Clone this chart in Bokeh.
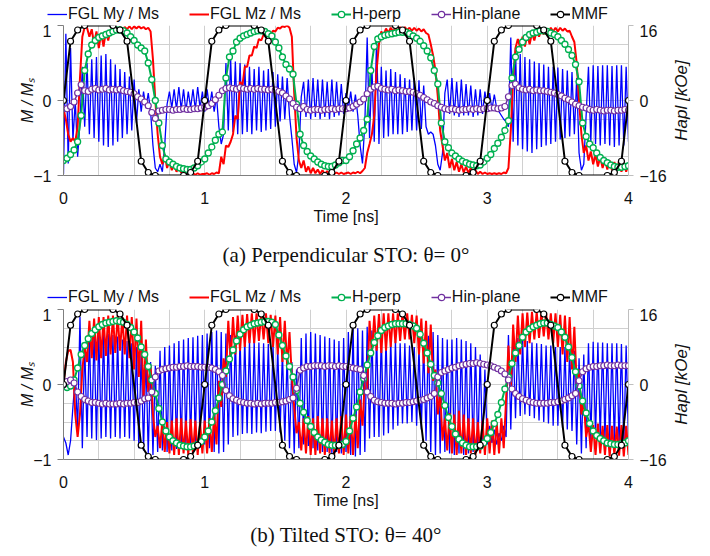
from bokeh.plotting import figure
from bokeh.models import Range1d, LinearAxis, FixedTicker, Legend, LegendItem, Title
from bokeh.layouts import column, row
from bokeh.embed import file_html
from bokeh.resources import INLINE

# ---------------- time axes ----------------
FINE_STEP = 1.0 / 60.0      # ns, FGL magnetisation samples
COARSE_STEP = 0.025         # ns, field samples
x_ticks = [0, 1, 2, 3, 4]
y_ticks_left = [-1, 0, 1]
y_ticks_right = [-16, 0, 16]
series_names = ["FGL My / Ms", "FGL Mz / Ms", "H-perp", "Hin-plane", "MMF"]

# ---------------- (a) perpendicular STO, theta = 0 deg ----------------
my_a = [
    -0.98, 0.89, -0.84, 0.70, -0.53, 0.00, -0.75, -0.30, 0.45, -0.35,
    0.50, -0.45, 0.55, -0.50, 0.58, -0.55, 0.60, -0.60, 0.62, -0.62,
    0.55, -0.60, 0.48, -0.55, 0.42, -0.50, 0.38, -0.45, 0.32, -0.40,
    0.28, -0.30, 0.15, -0.15, 0.12, -0.10, 0.10, -0.15, -0.60, -0.90,
    -0.95, -0.85, -0.95, -0.60, -0.05, 0.12, -0.10, 0.15, -0.12, 0.18,
    -0.12, 0.15, -0.15, 0.12, -0.10, 0.15, -0.12, 0.18, -0.10, 0.12,
    -0.15, 0.15, -0.10, 0.12, -0.15, 0.05, -0.35, -0.58, -0.45, 0.50,
    -0.40, 0.55, -0.42, 0.52, -0.45, 0.50, -0.45, 0.48, -0.42, 0.45,
    -0.45, 0.42, -0.40, 0.45, -0.42, 0.40, -0.40, 0.42, -0.38, 0.38,
    -0.35, 0.35, -0.28, 0.32, -0.25, 0.30, -0.20, -0.50, -0.85, -0.96,
    -0.70, 0.05, 0.25, -0.22, 0.28, -0.25, 0.30, -0.22, 0.28, -0.25,
    0.28, -0.22, 0.25, -0.25, 0.28, -0.22, 0.25, -0.20, 0.22, -0.18,
    0.10, -0.12, 0.12, -0.15, 0.08, -0.20, -0.60, -0.84, -0.30, 0.84,
    -0.50, 0.45, -0.55, 0.85, -0.58, 0.45, -0.50, 0.40, -0.48, 0.42,
    -0.45, 0.38, -0.45, 0.35, -0.45, 0.30, -0.42, 0.28, -0.40, 0.30,
    -0.40, 0.27, -0.38, 0.20, -0.35, -0.45, -0.42, -0.45, -0.60, -0.85,
    -0.93, -0.70, 0.10, 0.28, -0.18, 0.30, -0.20, 0.25, -0.22, 0.28,
    -0.20, 0.22, -0.20, 0.20, -0.22, 0.15, -0.20, 0.15, -0.18, 0.12,
    -0.10, 0.10, -0.12, 0.08, -0.10, -0.15, -0.20, -0.25, -0.28, -0.35,
    0.84, -0.55, 0.70, -0.60, 0.62, -0.65, 0.58, -0.68, 0.55, -0.70,
    0.52, -0.65, 0.50, -0.62, 0.48, -0.60, 0.45, -0.58, 0.45, -0.55,
    0.44, -0.52, 0.42, -0.50, 0.40, -0.48, 0.38, -0.45, 0.30, -0.70,
    -0.93, -0.85, -0.20, 0.45, -0.55, 0.47, -0.58, 0.46, -0.60, 0.47,
    -0.58, 0.47, -0.60, 0.46, -0.62, 0.47, -0.60, 0.47, -0.60, 0.45,
    -0.55,
]
mz_a = [
    -0.12, -0.25, -0.45, -0.55, -0.50, -0.55, -0.35, 0.30, 0.85, 0.98,
    0.97, 0.85, 0.95, 0.75, 0.92, 0.70, 0.90, 0.72, 0.92, 0.80,
    0.95, 0.90, 0.97, 0.93, 0.98, 0.94, 0.98, 0.95, 0.99, 0.95,
    0.99, 0.96, 0.99, 0.96, 0.98, 0.95, 0.97, 0.92, 0.55, 0.00,
    -0.45, -0.75, -0.85, -0.72, -0.90, -0.80, -0.93, -0.85, -0.95, -0.90,
    -0.96, -0.93, -0.97, -0.95, -0.98, -0.97, -0.99, -0.97, -0.99, -0.98,
    -0.98, -0.97, -0.99, -0.97, -0.98, -0.96, -0.97, -0.75, -0.85, -0.60,
    -0.62, -0.55, -0.45, -0.20, -0.25, 0.25, 0.20, 0.45, 0.45, 0.60,
    0.60, 0.72, 0.70, 0.82, 0.80, 0.88, 0.86, 0.90, 0.88, 0.93,
    0.92, 0.97, 0.96, 0.99, 0.98, 1.00, 0.97, 0.85, 0.10, -0.50,
    -0.80, -0.90, -0.80, -0.95, -0.88, -0.97, -0.90, -0.97, -0.92, -0.98,
    -0.93, -0.98, -0.94, -0.98, -0.95, -0.98, -0.96, -0.98, -0.96, -0.98,
    -0.97, -0.96, -0.98, -0.96, -0.97, -0.95, -0.97, -0.94, -0.90, -0.70,
    -0.58, -0.45, -0.20, 0.40, 0.75, 0.92, 0.88, 0.96, 0.90, 0.97,
    0.92, 0.97, 0.93, 0.98, 0.94, 0.98, 0.94, 0.97, 0.93, 0.97,
    0.93, 0.96, 0.92, 0.95, 0.90, 0.88, 0.75, 0.60, 0.40, 0.05,
    -0.40, -0.60, -0.80, -0.70, -0.90, -0.78, -0.93, -0.82, -0.95, -0.85,
    -0.96, -0.88, -0.97, -0.90, -0.97, -0.93, -0.98, -0.95, -0.98, -0.96,
    -0.98, -0.97, -0.98, -0.97, -0.98, -0.97, -0.98, -0.96, -0.97, -0.90,
    -0.40, 0.30, 0.70, 0.82, 0.70, 0.85, 0.72, 0.88, 0.75, 0.90,
    0.80, 0.93, 0.85, 0.95, 0.88, 0.96, 0.90, 0.97, 0.92, 0.97,
    0.92, 0.97, 0.93, 0.96, 0.92, 0.93, 0.85, 0.78, 0.50, 0.00,
    -0.45, -0.70, -0.60, -0.80, -0.68, -0.85, -0.72, -0.88, -0.75, -0.90,
    -0.78, -0.92, -0.80, -0.93, -0.82, -0.94, -0.80, -0.95, -0.82, -0.95,
    -0.85,
]
# field curves, normalised to 16 kOe (right axis)
hperp_a = [
    -0.80, -0.77, -0.72, -0.66, -0.55, -0.20, 0.40, 0.62, 0.74, 0.80,
    0.84, 0.86, 0.88, 0.90, 0.92, 0.94, 0.94, 0.93, 0.90, 0.85,
    0.80, 0.74, 0.70, 0.66, 0.50, 0.28, 0.00, -0.30, -0.60, -0.78,
    -0.82, -0.85, -0.88, -0.90, -0.91, -0.92, -0.92, -0.90, -0.87, -0.82,
    -0.78, -0.70, -0.62, -0.53, -0.45, -0.42, 0.30, 0.58, 0.66, 0.78,
    0.83, 0.86, 0.88, 0.90, 0.92, 0.93, 0.93, 0.92, 0.89, 0.86,
    0.78, 0.70, 0.58, 0.48, 0.42, 0.35, -0.05, -0.45, -0.60, -0.68,
    -0.74, -0.78, -0.82, -0.85, -0.87, -0.88, -0.88, -0.86, -0.83, -0.80,
    -0.80, -0.75, -0.67, -0.58, -0.50, -0.40, -0.25, 0.40, 0.72, 0.82,
    0.85, 0.87, 0.88, 0.89, 0.90, 0.91, 0.91, 0.91, 0.89, 0.86,
    0.83, 0.79, 0.73, 0.66, 0.57, 0.40, 0.22, -0.30, -0.55, -0.63,
    -0.70, -0.74, -0.78, -0.81, -0.83, -0.85, -0.86, -0.87, -0.86, -0.82,
    -0.77, -0.72, -0.64, -0.57, -0.49, -0.40, -0.27, 0.30, 0.58, 0.68,
    0.78, 0.84, 0.88, 0.90, 0.91, 0.93, 0.93, 0.92, 0.90, 0.88,
    0.85, 0.80, 0.75, 0.68, 0.60, 0.48, 0.25, -0.30, -0.48, -0.58,
    -0.63, -0.70, -0.76, -0.80, -0.83, -0.86, -0.88, -0.89, -0.89, -0.88,
    -0.87,
]
hin_a = [
    -0.11, -0.11, -0.08, -0.02, 0.10, 0.21, 0.13, 0.12, 0.15, 0.16,
    0.14, 0.15, 0.16, 0.14, 0.15, 0.14, 0.15, 0.13, 0.12, 0.11,
    0.09, 0.05, 0.02, -0.02, -0.07, -0.16, -0.24, -0.14, -0.13, -0.12,
    -0.12, -0.13, -0.12, -0.12, -0.11, -0.12, -0.12, -0.11, -0.11, -0.10,
    -0.09, -0.07, -0.04, 0.01, 0.07, 0.13, 0.16, 0.17, 0.16, 0.15,
    0.17, 0.16, 0.15, 0.16, 0.15, 0.16, 0.15, 0.15, 0.14, 0.15,
    0.14, 0.12, 0.10, 0.06, 0.02, -0.04, -0.09, -0.11, -0.08, -0.12,
    -0.13, -0.12, -0.12, -0.13, -0.12, -0.12, -0.11, -0.12, -0.11, -0.11,
    -0.11, -0.10, -0.08, -0.05, -0.02, 0.02, 0.09, 0.15, 0.18, 0.19,
    0.16, 0.15, 0.14, 0.15, 0.13, 0.14, 0.13, 0.12, 0.12, 0.11,
    0.09, 0.07, 0.04, 0.01, -0.02, -0.04, -0.07, -0.09, -0.11, -0.12,
    -0.11, -0.12, -0.13, -0.12, -0.12, -0.11, -0.12, -0.11, -0.12, -0.11,
    -0.11, -0.10, -0.10, -0.11, -0.10, -0.08, 0.05, 0.20, 0.22, 0.17,
    0.15, 0.14, 0.15, 0.13, 0.14, 0.13, 0.13, 0.12, 0.11, 0.10,
    0.08, 0.06, 0.03, 0.01, -0.02, -0.05, -0.07, -0.09, -0.10, -0.12,
    -0.13, -0.12, -0.13, -0.14, -0.13, -0.13, -0.14, -0.13, -0.13, -0.12,
    -0.13,
]
mmf_t = [
    0.00, 0.05, 0.10, 0.15, 0.35, 0.40, 0.45, 0.55, 0.60, 0.65, 0.85, 0.90, 0.95,
    1.00, 1.05, 1.10, 1.15, 1.35, 1.40, 1.45, 1.55, 1.60, 1.65, 1.85, 1.90, 1.95,
    2.00, 2.05, 2.10, 2.15, 2.35, 2.40, 2.45, 2.55, 2.60, 2.65, 2.85, 2.90, 2.95,
    3.00, 3.05, 3.10, 3.15, 3.35, 3.40, 3.45, 3.55, 3.60, 3.65, 3.85, 3.90, 3.95,
    4.00,
]
mmf_a = [
    0.00, 0.79, 0.94, 1.00, 1.00, 0.94, 0.79, -0.81, -0.96, -1.00, -1.00, -0.96, -0.81,
    0.00, 0.79, 0.94, 1.00, 1.00, 0.94, 0.79, -0.81, -0.96, -1.00, -1.00, -0.96, -0.81,
    0.00, 0.79, 0.94, 1.00, 1.00, 0.94, 0.79, -0.81, -0.96, -1.00, -1.00, -0.96, -0.81,
    0.00, 0.79, 0.94, 1.00, 1.00, 0.94, 0.79, -0.81, -0.96, -1.00, -1.00, -0.96, -0.81,
    0.00,
]

# ---------------- (b) tilted STO, theta = 40 deg ----------------
my_b = [
    -0.70, -0.78, -0.94, -0.75, -0.30, 0.10, -0.60, 0.90, -0.85, 0.55,
    -0.70, 0.70, -0.72, 0.72, -0.74, 0.70, -0.72, 0.70, -0.70, 0.68,
    -0.72, 0.66, -0.70, 0.64, -0.72, 0.60, -0.70, 0.58, -0.72, 0.55,
    -0.75, 0.50, -0.85, 0.45, -0.88, 0.40, -0.92, 0.30, -0.94, 0.25,
    -0.90, 0.45, -0.88, 0.50, -0.90, 0.52, -0.88, 0.55, -0.86, 0.58,
    -0.85, 0.60, -0.82, 0.62, -0.80, 0.63, -0.78, 0.65, -0.78, 0.66,
    -0.80, 0.68, -0.85, 0.70, -0.90, 0.72, -0.92, 0.70, -0.90, 0.68,
    -0.80, 0.66, -0.70, 0.65, -0.68, 0.63, -0.66, 0.62, -0.65, 0.60,
    -0.66, 0.58, -0.64, 0.56, -0.65, 0.55, -0.63, 0.54, -0.62, 0.52,
    -0.62, 0.50, -0.64, 0.45, -0.75, 0.40, -0.85, 0.30, -0.92, 0.20,
    -0.85, 0.62, -0.80, 0.68, -0.82, 0.70, -0.85, 0.68, -0.88, 0.66,
    -0.90, 0.64, -0.90, 0.62, -0.92, 0.60, -0.90, 0.58, -0.92, 0.62,
    -0.90, 0.70, -0.94, 0.78, -0.96, 0.75, -0.94, 0.72, -0.90, 0.77,
    -0.72, 0.72, -0.70, 0.68, -0.70, 0.65, -0.68, 0.62, -0.65, 0.60,
    -0.60, 0.58, -0.55, 0.55, -0.52, 0.55, -0.52, 0.52, -0.50, 0.50,
    -0.55, 0.50, -0.60, 0.55, -0.75, 0.65, -0.90, 0.70, -0.94, 0.66,
    -0.92, 0.62, -0.90, 0.60, -0.92, 0.60, -0.94, 0.62, -0.92, 0.60,
    -0.94, 0.58, -0.92, 0.55, -0.90, 0.50, -0.88, 0.40, -0.85, 0.20,
    -0.80, -0.55, -0.78, -0.60, -0.80, -0.65, -0.75, -0.55, -0.70, 0.66,
    -0.60, 0.64, -0.45, 0.62, -0.42, 0.60, -0.40, 0.58, -0.42, 0.56,
    -0.45, 0.55, -0.48, 0.54, -0.50, 0.52, -0.52, 0.52, -0.55, 0.50,
    -0.55, 0.50, -0.58, 0.50, -0.60, 0.48, -0.62, 0.45, -0.80, 0.35,
    -0.92, 0.40, -0.85, 0.55, -0.75, 0.57, -0.70, 0.56, -0.72, 0.56,
    -0.75, 0.55, -0.78, 0.55, -0.80, 0.55, -0.82, 0.54, -0.83, 0.52,
    -0.75,
]
mz_b = [
    0.00, 0.30, 0.45, 0.46, 0.30, -0.40, -0.70, -0.40, 0.20, 0.50,
    0.30, 0.85, 0.35, 0.88, 0.32, 0.90, 0.35, 0.90, 0.38, 0.92,
    0.40, 0.92, 0.42, 0.92, 0.45, 0.90, 0.40, 0.92, 0.35, 0.90,
    0.20, 0.88, 0.10, 0.85, -0.20, 0.60, -0.10, 0.25, -0.40, -0.70,
    -0.55, -0.85, -0.48, -0.90, -0.50, -0.92, -0.48, -0.94, -0.45, -0.94,
    -0.45, -0.92, -0.48, -0.94, -0.46, -0.92, -0.48, -0.94, -0.50, -0.92,
    -0.48, -0.92, -0.45, -0.90, -0.40, -0.80, 0.05, -0.30, 0.35, 0.10,
    0.85, 0.30, 0.90, 0.40, 0.92, 0.45, 0.93, 0.50, 0.94, 0.55,
    0.95, 0.55, 0.95, 0.58, 0.95, 0.60, 0.95, 0.55, 0.93, 0.50,
    0.92, 0.40, 0.90, 0.30, 0.85, 0.25, 0.70, 0.10, -0.30, -0.65,
    -0.50, -0.88, -0.45, -0.92, -0.42, -0.94, -0.45, -0.94, -0.42, -0.92,
    -0.45, -0.94, -0.45, -0.92, -0.48, -0.94, -0.45, -0.92, -0.42, -0.94,
    -0.40, -0.92, -0.42, -0.94, -0.40, -0.85, -0.20, -0.55, 0.05, -0.10,
    0.85, 0.40, 0.92, 0.45, 0.94, 0.42, 0.95, 0.45, 0.95, 0.50,
    0.95, 0.55, 0.95, 0.58, 0.95, 0.60, 0.95, 0.60, 0.93, 0.55,
    0.92, 0.40, 0.88, 0.28, 0.85, 0.15, 0.80, 0.05, 0.20, -0.40,
    -0.10, -0.75, -0.45, -0.88, -0.38, -0.92, -0.40, -0.94, -0.35, -0.92,
    -0.40, -0.94, -0.45, -0.92, -0.45, -0.94, -0.50, -0.92, -0.48, -0.94,
    -0.45, -0.92, -0.48, -0.94, -0.50, -0.92, -0.45, -0.85, -0.20, 0.52,
    -0.10, 0.80, 0.30, 0.92, 0.40, 0.95, 0.50, 0.96, 0.55, 0.97,
    0.60, 0.97, 0.62, 0.97, 0.64, 0.96, 0.60, 0.95, 0.55, 0.95,
    0.50, 0.93, 0.40, 0.92, 0.30, 0.90, 0.20, 0.77, 0.00, 0.20,
    -0.40, -0.20, -0.70, -0.52, -0.90, -0.54, -0.94, -0.52, -0.92, -0.55,
    -0.94, -0.54, -0.96, -0.55, -0.94, -0.56, -0.95, -0.54, -0.96, -0.55,
    -0.94,
]
hperp_b = [
    -0.02, -0.04, -0.02, 0.06, 0.22, 0.40, 0.52, 0.61, 0.68, 0.73,
    0.77, 0.80, 0.82, 0.83, 0.84, 0.85, 0.84, 0.83, 0.80, 0.76,
    0.70, 0.62, 0.50, 0.40, 0.24, 0.06, -0.12, -0.32, -0.50, -0.62,
    -0.70, -0.75, -0.78, -0.81, -0.82, -0.83, -0.83, -0.82, -0.80, -0.76,
    -0.70, -0.62, -0.50, -0.35, -0.18, 0.00, 0.18, 0.34, 0.46, 0.58,
    0.67, 0.73, 0.77, 0.79, 0.81, 0.82, 0.83, 0.84, 0.84, 0.83,
    0.80, 0.66, 0.52, 0.38, 0.24, 0.10, -0.08, -0.25, -0.37, -0.48,
    -0.56, -0.64, -0.70, -0.74, -0.77, -0.80, -0.81, -0.81, -0.81, -0.80,
    -0.76, -0.62, -0.45, -0.30, -0.10, 0.08, 0.26, 0.42, 0.56, 0.65,
    0.72, 0.76, 0.78, 0.80, 0.81, 0.81, 0.81, 0.81, 0.80, 0.78,
    0.75, 0.67, 0.55, 0.42, 0.27, 0.12, 0.02, -0.12, -0.28, -0.44,
    -0.56, -0.66, -0.73, -0.78, -0.81, -0.83, -0.83, -0.83, -0.82, -0.78,
    -0.72, -0.64, -0.52, -0.40, -0.24, -0.06, 0.10, 0.28, 0.42, 0.52,
    0.63, 0.70, 0.74, 0.77, 0.79, 0.81, 0.82, 0.82, 0.80, 0.78,
    0.76, 0.70, 0.63, 0.50, 0.36, 0.17, -0.02, -0.22, -0.38, -0.52,
    -0.62, -0.68, -0.72, -0.75, -0.78, -0.79, -0.80, -0.80, -0.79, -0.78,
    -0.75,
]
hin_b = [
    0.00, 0.04, 0.06, 0.02, -0.10, -0.16, -0.20, -0.22, -0.24, -0.24,
    -0.25, -0.26, -0.25, -0.26, -0.26, -0.26, -0.25, -0.26, -0.25, -0.25,
    -0.24, -0.24, -0.22, -0.19, -0.18, -0.10, 0.10, 0.18, 0.20, 0.21,
    0.22, 0.23, 0.23, 0.24, 0.24, 0.25, 0.24, 0.24, 0.24, 0.23,
    0.23, 0.23, 0.22, 0.20, 0.17, 0.12, -0.08, -0.15, -0.19, -0.21,
    -0.23, -0.24, -0.25, -0.25, -0.26, -0.25, -0.26, -0.25, -0.25, -0.25,
    -0.24, -0.24, -0.23, -0.22, -0.20, -0.18, -0.05, 0.19, 0.22, 0.24,
    0.24, 0.25, 0.25, 0.25, 0.24, 0.25, 0.25, 0.24, 0.25, 0.24,
    0.24, 0.23, 0.22, 0.21, 0.20, 0.12, -0.10, -0.16, -0.21, -0.23,
    -0.24, -0.25, -0.25, -0.25, -0.26, -0.25, -0.25, -0.24, -0.24, -0.23,
    -0.22, -0.21, -0.20, -0.18, -0.16, -0.12, 0.10, 0.16, 0.18, 0.20,
    0.22, 0.23, 0.25, 0.26, 0.27, 0.28, 0.28, 0.29, 0.28, 0.27,
    0.26, 0.25, 0.23, 0.21, 0.18, 0.14, 0.06, -0.06, -0.12, -0.16,
    -0.19, -0.21, -0.23, -0.24, -0.25, -0.25, -0.25, -0.25, -0.24, -0.24,
    -0.23, -0.22, -0.20, -0.18, -0.15, -0.12, 0.05, 0.17, 0.21, 0.23,
    0.24, 0.24, 0.25, 0.25, 0.26, 0.25, 0.25, 0.26, 0.25, 0.25,
    0.25,
]
mmf_b = [
    0.00, 0.79, 0.94, 1.00, 1.00, 0.94, 0.79, -0.81, -0.96, -1.00, -1.00, -0.96, -0.81,
    0.00, 0.79, 0.94, 1.00, 1.00, 0.94, 0.79, -0.81, -0.96, -1.00, -1.00, -0.96, -0.81,
    0.00, 0.79, 0.94, 1.00, 1.00, 0.94, 0.79, -0.81, -0.96, -1.00, -1.00, -0.96, -0.81,
    0.00, 0.79, 0.94, 1.00, 1.00, 0.94, 0.79, -0.81, -0.96, -1.00, -1.00, -0.96, -0.81,
    0.00,
]

for name, arr, n in [("my_a", my_a, 241), ("mz_a", mz_a, 241), ("my_b", my_b, 241),
                     ("mz_b", mz_b, 241), ("hperp_a", hperp_a, 161), ("hin_a", hin_a, 161),
                     ("hperp_b", hperp_b, 161), ("hin_b", hin_b, 161),
                     ("mmf_a", mmf_a, len(mmf_t)), ("mmf_b", mmf_b, len(mmf_t))]:
    assert len(arr) == n, (name, len(arr))

t_fine = [i * FINE_STEP for i in range(241)]
t_coarse = [i * COARSE_STEP for i in range(161)]

FONT = "Liberation Sans"
BLUE, RED, GREEN, PURPLE, BLACK = "#0000FF", "#FF0000", "#00B050", "#7030A0", "#000000"
TXT = "#111111"
W = 700          # total width
W_MAIN = 669     # width of the plot part (frame ends near x = 633)
W_LAB = W - W_MAIN


def draw_series(p, xs, ys):
    """Draw the five series on p; returns renderer groups for the legend."""
    tf, tf2, tc, tc2, tm = xs
    my, mz, hp, hi, mm = ys
    groups = []
    groups.append([p.line(tf, my, line_color=BLUE, line_width=1.3)])
    groups.append([p.line(tf2, mz, line_color=RED, line_width=2)])
    groups.append([p.line(tc, hp, line_color=GREEN, line_width=2),
                   p.scatter(tc, hp, marker="circle", size=6, fill_color="white",
                             line_color=GREEN, line_width=1.3)])
    groups.append([p.line(tc2, hi, line_color=PURPLE, line_width=1.5),
                   p.scatter(tc2, hi, marker="circle", size=6, fill_color="white",
                             line_color=PURPLE, line_width=1.2)])
    groups.append([p.line(tm, mm, line_color=BLACK, line_width=2),
                   p.scatter(tm, mm, marker="circle", size=6, fill_color="white",
                             line_color=BLACK, line_width=1.2)])
    return groups


def legend_strip(height, y_off, ys):
    # a thin plot that only carries the legend; its y range lies away from the data
    s = figure(width=W, height=height, x_range=Range1d(0, 4), y_range=Range1d(50, 51),
               output_backend="svg", toolbar_location=None,
               x_axis_location=None, y_axis_location=None,
               min_border_left=0, min_border_right=0, min_border_top=0, min_border_bottom=0)
    s.title.visible = False
    s.grid.visible = False
    s.outline_line_color = None
    groups = draw_series(s, [t_fine, t_fine, t_coarse, t_coarse, mmf_t], ys)
    legend = Legend(items=[LegendItem(label=n, renderers=g) for n, g in zip(series_names, groups)],
                    location=(47, y_off), orientation="horizontal")
    legend.label_text_font = FONT
    legend.label_text_font_size = "16px"
    legend.label_text_color = TXT
    legend.glyph_width = 20
    legend.glyph_height = 16
    legend.label_height = 16
    legend.label_standoff = 1
    legend.spacing = 30
    legend.padding = 0
    legend.margin = 0
    legend.border_line_color = None
    legend.background_fill_alpha = 0
    s.add_layout(legend, "center")
    return s


def right_label_strip(height, bottom):
    # narrow plot whose left-side title is the right-axis label (reads bottom to top)
    s = figure(width=W_LAB, height=height, x_range=Range1d(0, 1), y_range=Range1d(-16, 16),
               output_backend="svg", toolbar_location=None,
               x_axis_location=None, y_axis_location=None,
               min_border_left=0, min_border_right=0, min_border_top=1,
               min_border_bottom=bottom)
    s.title.visible = False
    s.grid.visible = False
    s.outline_line_color = None
    lab = Title(text="Hapl [kOe]", align="center", text_font=FONT, text_font_size="17px",
                text_font_style="italic", text_color=TXT, standoff=0, offset=0)
    s.add_layout(lab, "left")
    return s


def make_panel(my, mz, hperp, hin, mmf, caption, height, cap_standoff):
    p = figure(width=W_MAIN, height=height, x_range=Range1d(0, 4), y_range=Range1d(-1, 1),
               output_backend="svg", toolbar_location=None,
               min_border_left=63, min_border_right=36, min_border_top=1,
               min_border_bottom=10)
    p.title.visible = False
    p.extra_y_ranges = {"h": Range1d(-16, 16)}
    p.outline_line_color = None
    p.background_fill_color = "white"

    # grid
    p.xgrid.ticker = FixedTicker(ticks=[i * 0.25 for i in range(17)])
    p.ygrid.ticker = FixedTicker(ticks=[-1 + i * 0.25 for i in range(9)])
    for g in (p.xgrid, p.ygrid):
        g.grid_line_color = "#d0d0d0"
        g.grid_line_width = 1

    # x axis
    xa = p.xaxis[0]
    xa.ticker = FixedTicker(ticks=x_ticks)
    xa.major_tick_out = 0
    xa.major_tick_in = 0
    xa.minor_tick_out = 0
    xa.axis_line_color = "#7f7f7f"
    xa.major_label_standoff = 16
    xa.major_label_text_font = FONT
    xa.major_label_text_font_size = "16px"
    xa.major_label_text_color = TXT
    xa.axis_label = "Time [ns]"
    xa.axis_label_text_font = FONT
    xa.axis_label_text_font_size = "16px"
    xa.axis_label_text_font_style = "normal"
    xa.axis_label_standoff = 1
    xa.axis_label_text_color = TXT

    # left axis
    ya = p.yaxis[0]
    ya.ticker = FixedTicker(ticks=y_ticks_left)
    ya.major_tick_out = 6
    ya.major_tick_in = 0
    ya.minor_tick_out = 0
    ya.axis_line_color = "#7f7f7f"
    ya.major_tick_line_color = "#7f7f7f"
    ya.major_label_standoff = 6
    ya.major_label_text_font = FONT
    ya.major_label_text_font_size = "16px"
    ya.major_label_text_color = TXT
    ya.axis_label = "M / M\u209b"
    ya.axis_label_text_font = FONT
    ya.axis_label_text_font_size = "16px"
    ya.axis_label_text_font_style = "italic"
    ya.axis_label_standoff = -6
    ya.axis_label_text_color = TXT

    # right axis (its label is drawn by the narrow strip next to it)
    ra = LinearAxis(y_range_name="h", ticker=FixedTicker(ticks=y_ticks_right))
    ra.major_tick_out = 5
    ra.major_tick_in = 0
    ra.minor_tick_out = 0
    ra.axis_line_color = "#bfbfbf"
    ra.major_tick_line_color = "#bfbfbf"
    ra.major_label_standoff = 6
    ra.axis_label_standoff = 0
    ra.major_label_text_font = FONT
    ra.major_label_text_font_size = "16px"
    ra.major_label_text_color = TXT
    p.add_layout(ra, "right")

    draw_series(p, [t_fine, t_fine, t_coarse, t_coarse, mmf_t], [my, mz, hperp, hin, mmf])

    cap = Title(text=caption, align="center", text_font="Liberation Serif",
                text_font_size="21px", text_font_style="normal",
                text_color=TXT, standoff=cap_standoff)
    p.add_layout(cap, "below")
    return p


H_A, H_B = 256, 248
leg_a = legend_strip(24, 1, [my_a, mz_a, hperp_a, hin_a, mmf_a])
pa = make_panel(my_a, mz_a, hperp_a, hin_a, mmf_a,
                "(a) Perpendicular STO: \u03b8= 0\u00b0", H_A, 27)
lab_a = right_label_strip(H_A, H_A - 151)
leg_b = legend_strip(28, 2, [my_b, mz_b, hperp_b, hin_b, mmf_b])
pb = make_panel(my_b, mz_b, hperp_b, hin_b, mmf_b,
                "(b) Tilted STO: \u03b8= 40\u00b0", H_B, 19)
lab_b = right_label_strip(H_B, H_B - 151)

layout = column(row(leg_a), row(pa, lab_a, spacing=0), row(leg_b), row(pb, lab_b, spacing=0),
                spacing=0)
open("out.html", "w").write(file_html(layout, INLINE))
